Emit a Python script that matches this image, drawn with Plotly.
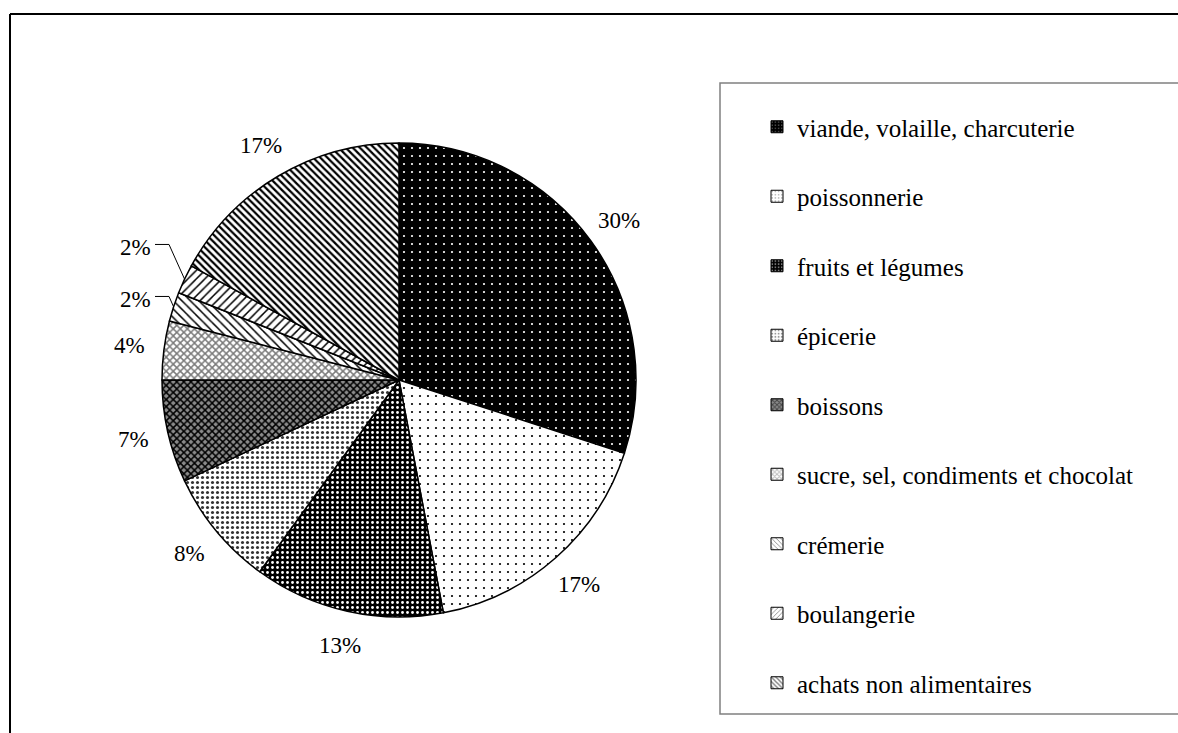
import math

import plotly.graph_objects as go

labels = [
    "viande, volaille, charcuterie",
    "poissonnerie",
    "fruits et légumes",
    "épicerie",
    "boissons",
    "sucre, sel, condiments et chocolat",
    "crémerie",
    "boulangerie",
    "achats non alimentaires",
]
values = [30, 17, 13, 8, 7, 4, 2, 2, 17]

# hatch styles per slice
shapes_ = [".", ".", ".", ".", "x", "x", "\\", "/", "\\"]
bgcolors = ["black", "white", "black", "white", "#8a8a8a", "white", "white", "white", "white"]
fgcolors = ["white", "black", "white", "#333333", "black", "#7a7a7a", "black", "black", "black"]
sizes = [8, 8, 5, 5, 5, 5, 6, 6, 5]
solidities = [0.06, 0.06, 0.25, 0.3, 0.5, 0.5, 0.25, 0.25, 0.45]

W, H = 1178, 733
FONT = "Liberation Serif"

# pie placement in pixels
CX, CY, R = 399, 380, 237
LABEL_DIST = 272
SMALL_DIST = 290


def px(x):
    return x / W


def py(y):
    return 1 - y / H


fig = go.Figure()

fig.add_trace(
    go.Pie(
        labels=labels,
        values=values,
        sort=False,
        direction="clockwise",
        rotation=0,
        textinfo="none",
        marker=dict(
            colors=bgcolors,
            line=dict(color="black", width=1.5),
            pattern=dict(
                shape=shapes_,
                bgcolor=bgcolors,
                fgcolor=fgcolors,
                size=sizes,
                solidity=solidities,
                fillmode="replace",
            ),
        ),
        domain=dict(x=[px(CX - R), px(CX + R)], y=[py(CY + R), py(CY - R)]),
        showlegend=False,
        hoverinfo="label+percent",
    )
)

# percentage labels placed around the pie from the slice mid angles
total = sum(values)
annotations = []
leader_shapes = []
small = []
cum = 0
for v in values:
    ang = (cum + v / 2) / total * 2 * math.pi
    cum += v
    s, c = math.sin(ang), math.cos(ang)
    txt = "{}%".format(round(v / total * 100))
    if v / total < 0.03:
        small.append((txt, CX + R * s, CY - R * c, CY - SMALL_DIST * c))
        continue
    annotations.append(
        dict(
            x=px(CX + LABEL_DIST * s), y=py(CY - LABEL_DIST * c), xref="paper", yref="paper",
            text=txt, showarrow=False, xanchor="center", yanchor="middle",
            font=dict(family=FONT, size=23, color="black"),
        )
    )

# small slices: labels stacked in a column on the left with elbow leader lines
if small:
    mean_y = sum(t[3] for t in small) / len(small)
    small.sort(key=lambda t: t[3])
    n = len(small)
    for k, (txt, ex, ey, _) in enumerate(small):
        ly = mean_y + (k - (n - 1) / 2) * 52
        lx = CX - 246
        annotations.append(
            dict(
                x=px(lx), y=py(ly), xref="paper", yref="paper", text=txt, showarrow=False,
                xanchor="right", yanchor="middle", font=dict(family=FONT, size=23, color="black"),
            )
        )
        path = "M {},{} L {},{} L {},{}".format(
            px(ex), py(ey), px(lx + 16), py(ly - 3), px(lx + 2), py(ly - 3)
        )
        leader_shapes.append(
            dict(type="path", xref="paper", yref="paper", path=path, line=dict(color="black", width=1))
        )

# legend entries drawn with empty bar traces so the spacing can be set
for i, lab in enumerate(labels):
    fig.add_trace(
        go.Bar(
            x=[None],
            y=[None],
            name=lab,
            legendgroup=lab,
            marker=dict(
                color=bgcolors[i],
                line=dict(color="black", width=1),
                pattern=dict(
                    shape=shapes_[i],
                    bgcolor=bgcolors[i],
                    fgcolor=fgcolors[i],
                    size=4,
                    solidity=max(solidities[i], 0.15),
                ),
            ),
            showlegend=True,
        )
    )

fig.update_layout(
    width=W,
    height=H,
    autosize=False,
    margin=dict(l=0, r=0, t=0, b=0),
    paper_bgcolor="white",
    plot_bgcolor="white",
    xaxis=dict(visible=False),
    yaxis=dict(visible=False),
    legend=dict(
        x=px(757),
        y=py(104),
        xanchor="left",
        yanchor="top",
        font=dict(family=FONT, size=25, color="black"),
        tracegroupgap=34,
        bgcolor="rgba(0,0,0,0)",
        borderwidth=0,
    ),
    annotations=annotations,
    shapes=[
        dict(type="line", xref="paper", yref="paper", x0=px(10), x1=1, y0=py(14), y1=py(14),
             line=dict(color="black", width=2)),
        dict(type="line", xref="paper", yref="paper", x0=px(10), x1=px(10), y0=py(14), y1=0,
             line=dict(color="black", width=2)),
        dict(type="rect", xref="paper", yref="paper", x0=px(720), x1=1.01, y0=py(714), y1=py(83),
             line=dict(color="#808080", width=1.5)),
    ] + leader_shapes,
)

fig.write_html(
    "out.html",
    config={"displayModeBar": False},
    post_script="document.body.style.margin='0px';",
)
